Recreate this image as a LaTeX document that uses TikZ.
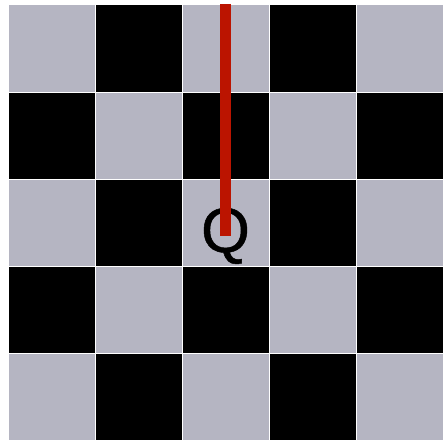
\documentclass[tikz,border=0pt]{standalone}
\usepackage{fontspec}
\setmainfont{Liberation Sans}
\newfontfamily\piecefont[FakeBold=0.7]{Liberation Sans}
\usepackage{tikz}
\usetikzlibrary{positioning,calc}

\definecolor{boardgray}{RGB}{181,181,194}
\definecolor{pathred}{RGB}{187,20,0}

\begin{document}
\begin{tikzpicture}[x=1pt,y=-1pt,
    cell/.style={draw=white,line width=1pt},
    piece/.style={font=\piecefont\fontsize{63}{63}\selectfont,inner sep=0pt,text=black},
    attack/.style={draw=pathred,line width=11pt}]
  \useasboundingbox (0,0) rectangle (443,441);
  % board
  \foreach \i in {0,...,4}{
    \foreach \j in {0,...,4}{
      \pgfmathtruncatemacro{\parity}{mod(\i+\j,2)}
      \ifnum\parity=0
        \path[cell,fill=boardgray] (8+87*\i,5+87*\j) rectangle ++(87,87);
      \else
        \path[cell,fill=black] (8+87*\i,5+87*\j) rectangle ++(87,87);
      \fi
    }
  }
  \node[piece] (queen) at (225.5,236) {Q};
  \coordinate (top) at (225.5,4);
  \draw[attack] (top) -- (queen.center);
\end{tikzpicture}
\end{document}
